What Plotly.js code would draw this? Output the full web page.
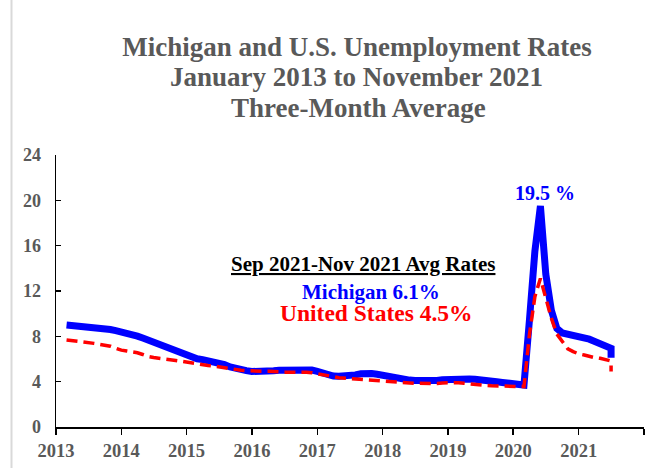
<!DOCTYPE html>
<html>
<head>
<meta charset="utf-8">
<script src="https://cdn.plot.ly/plotly-3.0.1.min.js"></script>
<style>html,body{margin:0;padding:0;background:#fff;}#chart{width:657px;height:468px;}</style>
</head>
<body>
<div id="chart"></div>
<script>
// Three-month average unemployment rates (%), monthly points starting Mar 2013
const michigan = [
  9.0, 8.95, 8.93, 8.91, 8.88, 8.86, 8.8, 8.73, 8.6, 8.5,
  8.4, 8.25, 8.15, 8.02, 7.85, 7.66, 7.45, 7.3, 7.1, 6.92,
  6.75, 6.58, 6.44, 6.2, 6.02, 5.95, 5.86, 5.77, 5.66, 5.5,
  5.3, 5.15, 5.02, 4.97, 4.9, 4.88, 4.92, 4.95, 4.97, 5.0,
  5.02, 5.03, 5.05, 5.08, 5.09, 5.02, 4.9, 4.75, 4.6, 4.5,
  4.48, 4.48, 4.52, 4.6, 4.7, 4.74, 4.72, 4.66, 4.55, 4.44,
  4.35, 4.26, 4.2, 4.14, 4.1, 4.08, 4.07, 4.08, 4.1, 4.18,
  4.22, 4.24, 4.24, 4.24, 4.23, 4.22, 4.2, 4.12, 4.05, 4.0,
  3.93, 3.86, 3.8, 3.74, 3.7, 9.5, 15.5, 19.5, 13.5, 10.3,
  8.7, 8.3, 8.2, 8.15, 8.05, 7.9, 7.75, 7.55, 7.3, 7.1,
  6.95, 6.1
];
const unitedStates = [
  7.68, 7.63, 7.58, 7.53, 7.46, 7.38, 7.3, 7.22, 7.13, 6.95,
  6.78, 6.7, 6.64, 6.55, 6.4, 6.22, 6.13, 6.08, 6.02, 5.95,
  5.87, 5.8, 5.71, 5.62, 5.53, 5.47, 5.43, 5.39, 5.3, 5.2,
  5.12, 5.06, 5.0, 4.97, 4.93, 4.91, 4.92, 4.93, 4.94, 4.88,
  4.83, 4.84, 4.87, 4.87, 4.83, 4.79, 4.72, 4.64, 4.54, 4.44,
  4.35, 4.32, 4.29, 4.25, 4.21, 4.18, 4.14, 4.1, 4.06, 4.02,
  4.0, 3.96, 3.92, 3.89, 3.86, 3.84, 3.82, 3.79, 3.84, 3.89,
  3.91, 3.91, 3.91, 3.86, 3.8, 3.75, 3.7, 3.67, 3.64, 3.62,
  3.6, 3.58, 3.57, 3.56, 3.56, 8.2, 11.5, 13.1, 11.3, 9.6,
  8.2, 7.5, 6.9, 6.65, 6.45, 6.35, 6.22, 6.12, 6.06, 5.95,
  5.82, 4.9
];
const startYear = 2013, startMonth = 3;
const yearLabels = ['2013','2014','2015','2016','2017','2018','2019','2020','2021'];
const yTicks = [0, 4, 8, 12, 16, 20, 24];
const titleLines = ['Michigan and U.S. Unemployment Rates', 'January 2013 to November 2021', 'Three-Month Average'];
const peakLabel = '19.5 %';
const boxHeading = 'Sep 2021-Nov 2021 Avg Rates';
const boxMichigan = 'Michigan 6.1%';
const boxUS = 'United States 4.5%';

// monthly dates; the latest (Sep-Nov 2021) reading is drawn at the last month's position
function monthDate(i) {
  const m = startMonth - 1 + i;
  const y = startYear + Math.floor(m / 12);
  const mm = (m % 12) + 1;
  return y + '-' + String(mm).padStart(2, '0') + '-01';
}
const dates = [];
for (let i = 0; i < michigan.length; i++) dates.push(monthDate(Math.min(i, michigan.length - 2)));

const tickVals = yearLabels.map(y => y + '-01-01').concat([(startYear + yearLabels.length) + '-01-01']);
const tickText = yearLabels.concat(['']);

const L = 56, R = 13, T = 155, B = 41, W = 657, H = 468;
const pw = W - L - R, ph = H - T - B;
const px = x => (x - L) / pw;
const py = y => (H - B - y) / ph;

const serif = 'Liberation Serif, Times New Roman, serif';
const grey = '#595959';

const peakIdx = michigan.indexOf(Math.max(...michigan));

const traces = [
  { x: dates, y: michigan, type: 'scatter', mode: 'lines', name: 'Michigan',
    line: { color: '#0000ff', width: 7 } },
  { x: dates, y: unitedStates, type: 'scatter', mode: 'lines', name: 'United States',
    line: { color: '#ff0000', width: 3.5, dash: '11px,6px' } }
];

const titleFont = { family: serif, size: 27, color: grey };

const layout = {
  width: W, height: H,
  margin: { l: L, r: R, t: T, b: B, pad: 0 },
  paper_bgcolor: '#ffffff', plot_bgcolor: '#ffffff',
  showlegend: false,
  title: {
    text: '<b>' + titleLines[0] + '</b>',
    font: titleFont,
    x: 357 / W, xanchor: 'center', xref: 'container',
    y: 1 - 47 / H, yanchor: 'middle', yref: 'container'
  },
  xaxis: {
    type: 'date',
    range: [startYear + '-01-01', (startYear + yearLabels.length) + '-01-01'],
    tickmode: 'array', tickvals: tickVals, ticktext: tickText,
    ticks: 'outside', ticklen: 6, tickwidth: 1.5, tickcolor: '#000',
    showline: true, linecolor: '#000', linewidth: 1.5,
    showgrid: false, zeroline: false,
    tickfont: { family: serif, size: 18.5, color: grey, weight: 'bold' },
    ticklabelstandoff: 0
  },
  yaxis: {
    range: [0, 24],
    tickmode: 'array', tickvals: yTicks, ticktext: yTicks.map(String),
    ticks: 'inside', ticklen: 5, tickwidth: 1.5, tickcolor: '#000',
    showline: true, linecolor: '#000', linewidth: 1.5,
    showgrid: false, zeroline: false,
    tickfont: { family: serif, size: 18, color: grey, weight: 'bold' },
    ticklabelstandoff: 10
  },
  shapes: [
    { type: 'line', xref: 'paper', yref: 'paper', x0: px(11.5), x1: px(11.5), y0: py(H), y1: py(0),
      line: { color: '#d9d9d9', width: 2 } }
  ],
  annotations: [
    { x: px(356), y: py(77), xref: 'paper', yref: 'paper', text: '<b>' + titleLines[1] + '</b>',
      showarrow: false, xanchor: 'center', yanchor: 'middle', font: titleFont },
    { x: px(358), y: py(107.5), xref: 'paper', yref: 'paper', text: '<b>' + titleLines[2] + '</b>',
      showarrow: false, xanchor: 'center', yanchor: 'middle', font: titleFont },
    { x: dates[peakIdx], y: michigan[peakIdx], xref: 'x', yref: 'y', text: '<b>' + peakLabel + '</b>',
      showarrow: false, xanchor: 'center', yanchor: 'bottom', yshift: 0, xshift: 5,
      font: { family: serif, size: 20, color: '#0000ff' } },
    { x: px(362.5), y: py(264), xref: 'paper', yref: 'paper', text: '<b><u>' + boxHeading + '</u></b>',
      showarrow: false, xanchor: 'center', yanchor: 'middle',
      font: { family: serif, size: 21, color: '#000000' } },
    { x: px(370.5), y: py(292), xref: 'paper', yref: 'paper', text: '<b>' + boxMichigan + '</b>',
      showarrow: false, xanchor: 'center', yanchor: 'middle',
      font: { family: serif, size: 21, color: '#0000ff' } },
    { x: px(376), y: py(313), xref: 'paper', yref: 'paper', text: '<b>' + boxUS + '</b>',
      showarrow: false, xanchor: 'center', yanchor: 'middle',
      font: { family: serif, size: 23.5, color: '#ff0000' } }
  ]
};

Plotly.newPlot('chart', traces, layout, { displayModeBar: false, staticPlot: true });
</script>
</body>
</html>
